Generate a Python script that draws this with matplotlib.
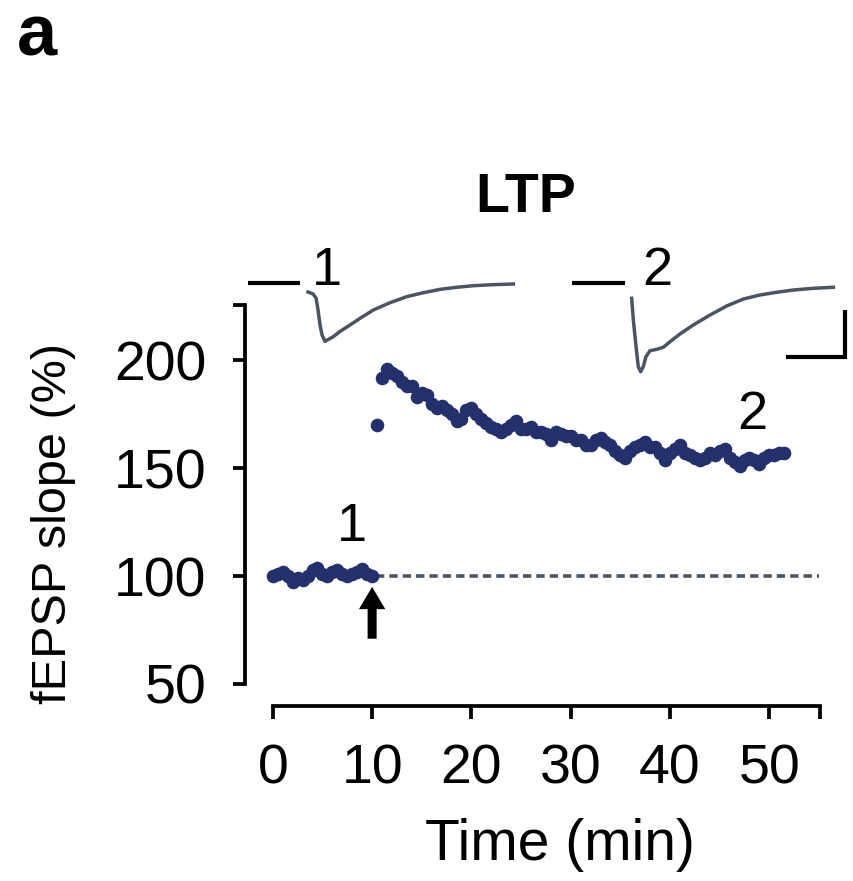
import matplotlib
matplotlib.use("Agg")
import matplotlib.pyplot as plt
import numpy as np

plt.rcParams['font.family'] = ['Liberation Sans', 'DejaVu Sans']

# ---- data: fEPSP slope (%) vs time (min) ----
baseline_time = [0.0, 0.5, 1.0, 1.5, 2.0, 2.5, 3.0, 3.5, 4.0, 4.5, 5.0,
                 5.5, 6.0, 6.5, 7.0, 7.5, 8.0, 8.5, 9.0, 9.5, 10.0]
baseline_slope = [100, 101, 102, 100, 97.5, 99, 98, 100, 103, 104, 101,
                  100, 102, 103, 101, 100, 101, 102, 103.5, 101, 100]

post_time = [10.5 + 0.5 * i for i in range(83)]
post_slope = [170, 192, 196, 194, 193, 190, 188, 188, 183, 185,
              184, 180, 178, 179, 177, 175, 172, 173, 177, 178,
              175, 173, 171, 169, 168, 167, 168, 170, 172, 168,
              168, 169, 167, 167, 166, 163, 167, 166, 165, 165,
              163, 163, 161, 161, 163, 164, 162, 161, 158, 156,
              155, 158, 160, 161, 162, 160, 160, 157, 154, 157,
              159, 161, 157, 156, 155, 154, 155, 157, 156, 158,
              159, 155, 153, 151, 154, 155, 154, 152, 155, 156,
              156, 157, 157]

x_ticks = [0, 10, 20, 30, 40, 50]
y_ticks = [50, 100, 150, 200]

# ---- example traces (ms, mV) ----
bar1_t = [0.25, 4.66]
trace1_t = [5.34, 5.76, 6.02, 6.19, 6.36, 6.53, 6.78, 7.48, 8.05, 8.90, 9.75,
            10.87, 12.29, 13.70, 15.11, 16.53, 17.94, 19.35, 21.04, 22.74]
trace1_v = [-0.085, -0.106, -0.149, -0.277, -0.436, -0.543, -0.61, -0.56, -0.505,
            -0.436, -0.365, -0.277, -0.199, -0.135, -0.093, -0.057, -0.035,
            -0.018, -0.007, 0.0]
bar2_t = [27.7, 32.2]
trace2_t = [32.77, 32.91, 33.14, 33.33, 33.53, 33.75, 33.98, 34.32, 34.89, 35.45,
            36.02, 36.86, 37.99, 39.41, 40.82, 42.23, 43.64, 45.06, 46.47,
            48.16, 49.86]
trace2_v = [-0.152, -0.383, -0.667, -0.880, -0.933, -0.880, -0.773, -0.710,
            -0.695, -0.673, -0.614, -0.532, -0.436, -0.330, -0.234, -0.160,
            -0.117, -0.088, -0.064, -0.046, -0.035]
scale_ms = 5.0
scale_mv = 0.5

W, H = 854, 881
fig = plt.figure(figsize=(W / 100, H / 100), dpi=100)

def px_rect(l, t, r, b):
    return [l / W, 1 - b / H, (r - l) / W, (b - t) / H]

dot_color = '#23306b'
trace_color = '#4b5562'

ax = fig.add_axes(px_rect(245, 305, 820, 706))
ax.plot(baseline_time, baseline_slope, 'o', color=dot_color, ms=9.8, mec='none', zorder=3)
ax.plot(post_time, post_slope, 'o', color=dot_color, ms=9.8, mec='none', zorder=3)
ax.plot([10.4, 55.0], [100, 100], color=trace_color, lw=2.6,
        linestyle=(0, (2.3, 1.4)), zorder=2)
ax.annotate('', xy=(10, 95), xytext=(10, 71),
            arrowprops=dict(facecolor='black', edgecolor='none', width=6.5,
                            headwidth=19, headlength=16, shrink=0))
ax.text(8.0, 123, '1', fontsize=39, ha='center', va='center')
ax.text(48.3, 174.5, '2', fontsize=39, ha='center', va='center')

ax.set_xlim(-2.8, 55.1)
ax.set_ylim(39.8, 225.7)
for s in ['top', 'right']:
    ax.spines[s].set_visible(False)
ax.spines['left'].set_bounds(50, 225.7)
ax.spines['bottom'].set_bounds(0, 55.1)
for s in ['left', 'bottom']:
    ax.spines[s].set_linewidth(2.7)
ax.set_xticks(x_ticks)
ax.set_yticks(y_ticks)
ax.set_xticks([55.1], minor=True)
ax.set_yticks([225.7], minor=True)
ax.tick_params(axis='both', which='both', direction='out', length=9, width=2.7,
               labelsize=40)
ax.tick_params(axis='x', pad=18)
ax.tick_params(axis='y', pad=19)
ax.patch.set_alpha(0)

fig.text(54 / W, 1 - 523 / H, 'fEPSP slope (%)', rotation=90, fontsize=35,
         family=['Liberation Sans Narrow', 'Liberation Sans', 'DejaVu Sans'],
         ha='center', va='center')
fig.text(560 / W, 1 - 845 / H, 'Time (min)', fontsize=41, ha='center', va='center')
fig.text(526 / W, 1 - 212 / H, 'LTP', fontsize=40, fontweight='bold',
         ha='center', va='baseline')
fig.text(17 / W, 1 - 55 / H, 'a', fontsize=52, fontweight='bold',
         ha='left', va='baseline')

# trace overlay
tx = fig.add_axes(px_rect(245, 240, 850, 380))
tx.set_xlim(0, 605 / 11.8)
tx.set_ylim((284 - 380) / 94, (284 - 240) / 94)
tx.axis('off')
tx.patch.set_alpha(0)
tx.plot(bar1_t, [0.01, 0.01], color='black', lw=3.0, solid_capstyle='butt')
tx.plot(bar2_t, [0.01, 0.01], color='black', lw=3.0, solid_capstyle='butt')
tx.plot(trace1_t, trace1_v, color=trace_color, lw=2.5, solid_joinstyle='round')
tx.plot(trace2_t, trace2_v, color=trace_color, lw=2.5, solid_joinstyle='round')
sx0 = 50.85
sy0 = -0.777
tx.plot([sx0 - scale_ms, sx0, sx0], [sy0, sy0, sy0 + scale_mv], color='black',
        lw=3.0, solid_joinstyle='miter', solid_capstyle='butt')
tx.text(6.95, -0.01, '1', fontsize=39, ha='center', va='baseline')
tx.text(34.9, -0.01, '2', fontsize=39, ha='center', va='baseline')

fig.savefig('out.png', dpi=100)
